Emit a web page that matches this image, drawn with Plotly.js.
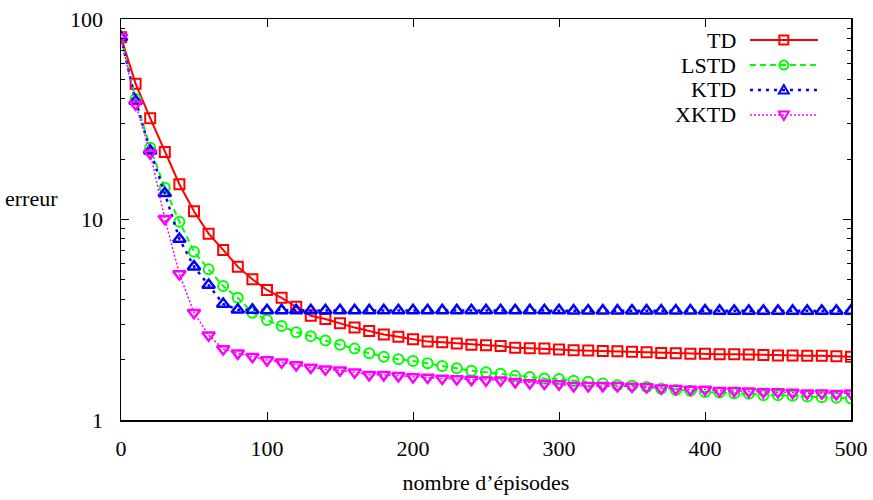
<!DOCTYPE html>
<html>
<head>
<meta charset="utf-8">
<script src="https://cdn.plot.ly/plotly-3.0.1.min.js"></script>
<style>html,body{margin:0;padding:0;background:#fff}#chart{width:873px;height:500px}</style>
</head>
<body>
<div id="chart"></div>
<script>
const episodes = [0,10,20,30,40,50,60,70,80,90,100,110,120,130,140,150,160,170,180,190,200,210,220,230,240,250,260,270,280,290,300,310,320,330,340,350,360,370,380,390,400,410,420,430,440,450,460,470,480,490,500];
const td = [81,47.6,32.0,21.7,15.0,11.0,8.5,7.05,5.82,5.03,4.45,4.07,3.67,3.31,3.19,3.04,2.89,2.78,2.67,2.60,2.53,2.46,2.44,2.41,2.37,2.36,2.34,2.29,2.28,2.27,2.25,2.23,2.22,2.21,2.20,2.19,2.18,2.16,2.15,2.14,2.14,2.13,2.13,2.12,2.11,2.10,2.10,2.09,2.09,2.08,2.07];
const lstd = [81,39.9,22.8,14.4,9.75,6.91,5.64,4.66,4.07,3.43,3.15,2.94,2.74,2.62,2.49,2.37,2.27,2.15,2.07,2.01,1.97,1.92,1.86,1.81,1.76,1.73,1.70,1.66,1.64,1.61,1.60,1.57,1.55,1.52,1.49,1.48,1.46,1.43,1.41,1.40,1.38,1.37,1.36,1.35,1.33,1.33,1.32,1.31,1.30,1.29,1.28];
const ktd = [81,39,22,13.5,8.0,5.82,4.71,3.79,3.55,3.54,3.52,3.52,3.52,3.52,3.52,3.52,3.52,3.52,3.52,3.52,3.52,3.52,3.52,3.52,3.52,3.52,3.52,3.52,3.52,3.52,3.52,3.51,3.51,3.51,3.51,3.51,3.51,3.51,3.51,3.51,3.51,3.50,3.50,3.50,3.50,3.50,3.50,3.50,3.50,3.50,3.50];
const xktd = [81,37.6,21.4,10.1,5.35,3.43,2.65,2.26,2.15,2.07,1.99,1.94,1.88,1.83,1.79,1.77,1.73,1.68,1.68,1.66,1.64,1.63,1.61,1.60,1.59,1.58,1.58,1.55,1.53,1.52,1.51,1.48,1.48,1.48,1.48,1.47,1.46,1.44,1.43,1.42,1.42,1.40,1.40,1.39,1.38,1.38,1.37,1.36,1.36,1.35,1.36];
const seriesNames = ["TD","LSTD","KTD","XKTD"];
const xTickVals = [0,100,200,300,400,500];
const yTickVals = [1,10,100];
const yTickText = ["1","10","100"];
const yMinorVals = [2,3,4,5,6,7,8,9,20,30,40,50,60,70,80,90];

const FONT = "serif";
const styles = [
  {color:"#ff0000", dash:"solid", width:2, symbol:"square-open", size:10, mlw:2},
  {color:"#00ff00", dash:"6px,4px", width:2, symbol:"circle-open", size:10, mlw:2},
  {color:"#0000ff", dash:"3px,5px", width:2.5, symbol:"triangle-up-open", size:11, mlw:2.5},
  {color:"#ff00ff", dash:"2px,2px", width:1.5, symbol:"triangle-down-open", size:11, mlw:2.5}
];
const ys = [td, lstd, ktd, xktd];

const traces = ys.map((y,i)=>({
  type:"scatter", mode:"lines+markers", name:seriesNames[i],
  x:episodes, y:y,
  line:{color:styles[i].color, dash:styles[i].dash, width:styles[i].width},
  marker:{symbol:styles[i].symbol, size:styles[i].size, color:styles[i].color, line:{color:styles[i].color, width:styles[i].mlw}},
  showlegend:false
}));

const shapes = [];
const annotations = [];
const legY = [0.9476, 0.885, 0.823, 0.7606];
const lx0 = 0.8616, lx1 = 0.9548, lxm = 0.908;
ys.forEach((_,i)=>{
  const s = styles[i];
  shapes.push({type:"line", xref:"paper", yref:"paper", x0:lx0, x1:lx1, y0:legY[i], y1:legY[i],
    line:{color:s.color, width:s.width, dash:s.dash}});
  annotations.push({xref:"paper", yref:"paper", x:0.845, y:legY[i], xanchor:"right", yanchor:"middle",
    text:seriesNames[i], showarrow:false, font:{family:FONT, size:22, color:"#000"}});
});
const mk = (i, path)=>({type:"path", xref:"paper", yref:"paper", xsizemode:"pixel", ysizemode:"pixel",
  xanchor:lxm, yanchor:legY[i], path:path, line:{color:styles[i].color, width:2}, fillcolor:"rgba(0,0,0,0)"});
shapes.push(mk(0, "M-4.5,-4.5L4.5,-4.5L4.5,4.5L-4.5,4.5Z"));
shapes.push({type:"circle", xref:"paper", yref:"paper", xsizemode:"pixel", ysizemode:"pixel",
  xanchor:lxm, yanchor:legY[1], x0:-4.5, x1:4.5, y0:-4.5, y1:4.5, line:{color:styles[1].color, width:2}});
shapes.push(mk(2, "M-5,-3.5L5,-3.5L0,5Z"));
shapes.push(mk(3, "M-5,3.5L5,3.5L0,-5Z"));

annotations.push({xref:"paper", yref:"paper", x:-0.123, y:0.553, xanchor:"center", yanchor:"middle",
  text:"erreur", showarrow:false, font:{family:FONT, size:22, color:"#000"}});

const layout = {
  width:873, height:500,
  margin:{l:121, r:22, t:19, b:80},
  paper_bgcolor:"#fff", plot_bgcolor:"#fff",
  font:{family:FONT, size:22, color:"#000"},
  xaxis:{
    range:[0,500], tickvals:xTickVals, ticks:"inside", ticklen:8, tickwidth:1, tickcolor:"#000",
    showline:true, linecolor:"#000", linewidth:1.5, mirror:"ticks", showgrid:false, zeroline:false,
    ticklabelstandoff:8, tickfont:{family:FONT, size:22},
    title:{text:"nombre d’épisodes", font:{family:FONT, size:22}, standoff:14}
  },
  yaxis:{
    type:"log", range:[0,2], tickvals:yTickVals, ticktext:yTickText, ticks:"inside", ticklen:8, tickwidth:1, tickcolor:"#000",
    showline:true, linecolor:"#000", linewidth:1.5, mirror:"ticks", showgrid:false, zeroline:false,
    ticklabelstandoff:12, tickfont:{family:FONT, size:22},
    minor:{tickvals:yMinorVals, ticks:"inside", ticklen:4, tickcolor:"#000", tickwidth:1, showgrid:false}
  },
  shapes:shapes, annotations:annotations
};
Plotly.newPlot("chart", traces, layout, {displayModeBar:false, staticPlot:true});
</script>
</body>
</html>
